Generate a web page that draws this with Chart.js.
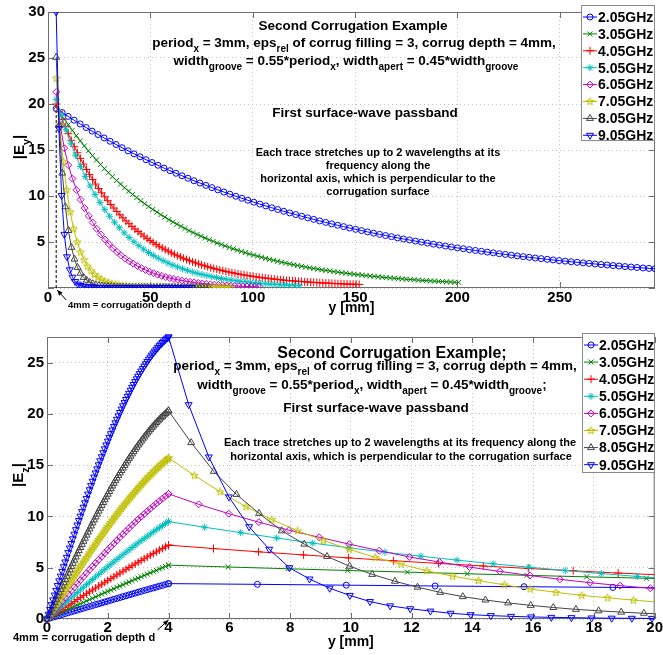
<!DOCTYPE html>
<html>
<head>
<meta charset="utf-8">
<script src="https://cdn.jsdelivr.net/npm/chart.js@4.4.1/dist/chart.umd.min.js"></script>
<style>
  html, body { margin: 0; padding: 0; background: #fff; }
  #wrap { position: relative; width: 663px; height: 655px; }
  canvas { position: absolute; left: 0; }
  #top { top: 0; }
  #bottom { top: 325px; }
</style>
</head>
<body>
<div id="wrap">
  <canvas id="top" width="663" height="328"></canvas>
  <canvas id="bottom" width="663" height="330"></canvas>
</div>
<script>
const FONT = '"Liberation Sans", Arial, Helvetica, sans-serif';

// ---- data ----
const freqLabels = ['2.05GHz', '3.05GHz', '4.05GHz', '5.05GHz', '6.05GHz', '7.05GHz', '8.05GHz', '9.05GHz'];
const depthMm = 4;          // corrugation depth d, outside traces start here
// sample spacing inside the groove (0..d), per trace
const grooveStepMm = [0.1, 0.1, 0.1, 0.1, 0.1, 0.05, 0.05, 0.05];
// sample spacing of each trace outside the corrugation (mm)
const ezStepMm = [2.925, 1.966, 1.480, 1.187, 0.991, 0.850, 0.745, 0.663];
const eyStepMm = [2.925, 1.966, 1.480, 2.374, 1.982, 1.701, 1.490, 1.325];
const depthLineTop = 20;

// top plot, |Ey| outside the corrugation
const eyF205 = [19.50,19.07,18.65,18.24,17.83,17.44,17.05,16.68,16.31,15.95,
  15.60,15.25,14.91,14.58,14.26,13.95,13.64,13.34,13.04,12.75,
  12.47,12.20,11.93,11.66,11.41,11.15,10.91,10.67,10.43,10.20,
  9.97,9.75,9.54,9.33,9.12,8.92,8.72,8.53,8.34,8.16,
  7.98,7.80,7.63,7.46,7.29,7.13,6.97,6.82,6.67,6.52,
  6.38,6.24,6.10,5.96,5.83,5.70,5.58,5.45,5.33,5.22,
  5.10,4.99,4.88,4.77,4.67,4.56,4.46,4.36,4.27,4.17,
  4.08,3.99,3.90,3.82,3.73,3.65,3.57,3.49,3.41,3.34,
  3.26,3.19,3.12,3.05,2.98,2.92,2.85,2.79,2.73,2.67,
  2.61,2.55,2.50,2.44,2.39,2.33,2.28,2.23,2.18,2.13,2.09];
const eyF305 = [19.70,19.03,18.37,17.75,17.14,16.55,15.99,15.44,14.91,14.40,
  13.91,13.43,12.97,12.53,12.10,11.69,11.29,10.90,10.53,10.17,
  9.82,9.48,9.16,8.85,8.54,8.25,7.97,7.70,7.43,7.18,
  6.93,6.70,6.47,6.24,6.03,5.82,5.62,5.43,5.25,5.07,
  4.89,4.73,4.57,4.41,4.26,4.11,3.97,3.84,3.70,3.58,
  3.46,3.34,3.22,3.11,3.01,2.90,2.80,2.71,2.62,2.53,
  2.44,2.36,2.28,2.20,2.12,2.05,1.98,1.91,1.85,1.78,
  1.72,1.66,1.61,1.55,1.50,1.45,1.40,1.35,1.30,1.26,
  1.21,1.17,1.13,1.09,1.06,1.02,0.99,0.95,0.92,0.89,
  0.86,0.83,0.80,0.77,0.75,0.72,0.70,0.67,0.65,0.63,0.61];
const eyF405 = [20.00,19.14,18.31,17.53,16.77,16.05,15.36,14.70,14.07,13.47,
  12.88,12.33,11.80,11.30,10.81,10.35,9.91,9.49,9.08,8.69,
  8.32,7.96,7.63,7.30,6.99,6.69,6.41,6.14,5.88,5.63,
  5.39,5.16,4.95,4.74,4.54,4.35,4.17,3.99,3.82,3.67,
  3.51,3.37,3.23,3.09,2.97,2.84,2.73,2.61,2.51,2.41,
  2.31,2.21,2.12,2.04,1.96,1.88,1.80,1.73,1.66,1.60,
  1.53,1.47,1.42,1.36,1.31,1.26,1.21,1.16,1.12,1.08,
  1.04,1.00,0.96,0.93,0.89,0.86,0.83,0.80,0.77,0.75,
  0.72,0.70,0.67,0.65,0.63,0.61,0.59,0.57,0.55,0.53,
  0.52,0.50,0.48,0.47,0.46,0.44,0.43,0.42,0.41,0.40,0.38];
const eyF505 = [20.50,18.78,17.20,15.75,14.43,13.22,12.11,11.09,10.16,9.30,
  8.52,7.80,7.15,6.55,5.99,5.49,5.03,4.60,4.22,3.86,
  3.54,3.24,2.97,2.72,2.49,2.28,2.09,1.91,1.75,1.60,
  1.47,1.35,1.23,1.13,1.03,0.95,0.87,0.79,0.73,0.67,
  0.61,0.56,0.51,0.47,0.43,0.39,0.36,0.33,0.30,0.28,0.25];
const eyF605 = [21.30,17.67,15.19,13.35,11.89,10.67,9.61,8.68,7.85,7.11,
  6.43,5.82,5.27,4.77,4.32,3.92,3.55,3.21,2.91,2.64,
  2.39,2.16,1.96,1.77,1.61,1.45,1.32,1.19,1.08,0.98,
  0.89,0.80,0.73,0.66,0.60,0.54,0.49,0.44,0.40,0.36,
  0.33,0.30,0.27,0.24,0.22,0.20,0.18,0.16,0.15,0.13,0.12];
const eyF705 = [22.80,17.69,13.73,10.66,8.28,6.44,5.01,3.91,3.05,2.38,
  1.87,1.47,1.16,0.92,0.74,0.59,0.48,0.40,0.33,0.28,
  0.24,0.21,0.18,0.16,0.15,0.14,0.13,0.12,0.12,0.11,
  0.11,0.11,0.10,0.10,0.10,0.10,0.09,0.09,0.09,0.09,
  0.09,0.08,0.08,0.08,0.08,0.08,0.08,0.07,0.07,0.07,0.07];
const eyF805 = [25.08,17.70,12.49,8.83,6.25,4.42,3.14,2.24,1.60,1.15,
  0.84,0.61,0.46,0.34,0.27,0.21,0.17,0.15,0.13,0.11,
  0.10,0.09,0.09,0.08,0.08,0.08,0.07,0.07,0.07,0.07,
  0.07,0.07,0.06,0.06,0.06,0.06,0.06,0.06,0.06,0.06,
  0.05,0.05,0.05,0.05,0.05,0.05,0.05,0.05,0.05,0.05,0.05];
const eyF905 = [30.00,17.35,10.05,5.83,3.39,1.98,1.17,0.70,0.43,0.27,
  0.18,0.13,0.10,0.08,0.07,0.07,0.06,0.06,0.06,0.06,
  0.05,0.05,0.05,0.05,0.05,0.05,0.05,0.05,0.05,0.04,
  0.04,0.04,0.04,0.04,0.04,0.04,0.04,0.04,0.04,0.04,
  0.04,0.04,0.04,0.04,0.04,0.04,0.04,0.04,0.04,0.04,0.04];

// bottom plot, |Ez| inside the groove (0..4 mm)
const ezInF205 = [0,0.09,0.18,0.26,0.35,0.44,0.53,0.61,0.70,0.79,0.87,0.96,1.05,1.14,1.22,1.31,1.40,1.48,1.57,1.66,1.74,1.83,1.92,2.00,2.09,2.18,2.26,2.35,2.43,2.52,2.61,2.69,2.78,2.86,2.95,3.03,3.11,3.20,3.28,3.37,3.45];
const ezInF305 = [0,0.14,0.27,0.41,0.54,0.68,0.81,0.95,1.08,1.22,1.35,1.49,1.62,1.76,1.89,2.02,2.16,2.29,2.43,2.56,2.69,2.82,2.95,3.09,3.22,3.35,3.48,3.61,3.74,3.87,3.99,4.12,4.25,4.38,4.50,4.63,4.75,4.88,5.00,5.13,5.25];
const ezInF405 = [0,0.19,0.38,0.57,0.76,0.95,1.14,1.33,1.52,1.71,1.90,2.09,2.28,2.47,2.65,2.84,3.02,3.21,3.39,3.58,3.76,3.94,4.12,4.31,4.48,4.66,4.84,5.02,5.19,5.37,5.54,5.71,5.88,6.05,6.22,6.39,6.55,6.72,6.88,7.04,7.20];
const ezInF505 = [0,0.26,0.52,0.78,1.04,1.30,1.56,1.82,2.07,2.33,2.59,2.84,3.10,3.35,3.60,3.85,4.10,4.35,4.60,4.84,5.09,5.33,5.57,5.81,6.04,6.28,6.51,6.74,6.97,7.20,7.42,7.64,7.86,8.07,8.29,8.50,8.71,8.91,9.11,9.31,9.50];
const ezInF605 = [0,0.35,0.70,1.04,1.39,1.74,2.08,2.43,2.77,3.11,3.45,3.79,4.13,4.46,4.80,5.13,5.46,5.78,6.10,6.42,6.74,7.05,7.36,7.67,7.97,8.27,8.57,8.86,9.15,9.43,9.71,9.98,10.24,10.51,10.76,11.02,11.26,11.51,11.74,11.97,12.20];
const ezInF705 = [0,0.24,0.47,0.71,0.94,1.18,1.41,1.65,1.88,2.11,2.35,2.58,2.81,3.04,3.28,3.51,3.74,3.97,4.20,4.43,
  4.65,4.88,5.11,5.33,5.56,5.78,6.00,6.23,6.45,6.67,6.89,7.10,7.32,7.54,7.75,7.96,8.17,8.38,8.59,8.80,
  9.01,9.21,9.42,9.61,9.82,10.01,10.22,10.40,10.61,10.79,10.98,11.16,11.35,11.53,11.72,11.90,12.08,12.25,12.43,12.60,
  12.77,12.94,13.10,13.27,13.43,13.59,13.75,13.90,14.05,14.20,14.35,14.50,14.64,14.78,14.92,15.06,15.19,15.32,15.45,15.58,15.70];
const ezInF805 = [0,0.32,0.64,0.97,1.29,1.61,1.93,2.25,2.57,2.89,3.21,3.53,3.85,4.17,4.48,4.80,5.11,5.43,5.74,6.05,
  6.36,6.67,6.97,7.28,7.58,7.88,8.18,8.48,8.78,9.07,9.37,9.66,9.95,10.23,10.52,10.80,11.08,11.36,11.63,11.90,
  12.17,12.44,12.71,12.97,13.23,13.49,13.74,13.99,14.24,14.48,14.72,14.96,15.20,15.43,15.66,15.88,16.10,16.32,16.54,16.75,
  16.96,17.16,17.36,17.56,17.75,17.94,18.13,18.31,18.49,18.66,18.83,19.00,19.16,19.31,19.47,19.62,19.76,19.90,20.04,20.17,20.30];
const ezInF905 = [0,0.47,0.93,1.40,1.86,2.33,2.79,3.26,3.72,4.18,4.64,5.10,5.56,6.01,6.47,6.92,7.37,7.82,8.27,8.71,
  9.16,9.60,10.03,10.47,10.90,11.33,11.76,12.18,12.60,13.01,13.43,13.84,14.24,14.64,15.04,15.43,15.82,16.21,16.59,16.97,
  17.34,17.71,18.07,18.43,18.78,19.13,19.47,19.81,20.14,20.47,20.79,21.10,21.41,21.72,22.01,22.31,22.59,22.87,23.15,23.42,
  23.68,23.93,24.18,24.42,24.66,24.89,25.11,25.33,25.54,25.74,25.94,26.12,26.31,26.48,26.65,26.81,26.96,27.11,27.24,27.38,27.50];

// bottom plot, |Ez| outside the corrugation (from 4 mm on)
const ezOutF205 = [3.45,3.38,3.30,3.22,3.15,3.08,3.01];
const ezOutF305 = [5.25,5.07,4.90,4.73,4.57,4.41,4.26,4.11,3.97,3.84];
const ezOutF405 = [7.20,6.87,6.55,6.25,5.96,5.68,5.42,5.17,4.93,4.70,4.48,4.28];
const ezOutF505 = [9.50,8.95,8.42,7.90,7.40,6.95,6.52,6.12,5.74,5.38,5.05,4.73,4.43,4.15,3.89];
const ezOutF605 = [12.20,11.18,10.27,9.44,8.66,7.97,7.30,6.66,6.05,5.55,5.06,4.64,4.24,3.87,3.54,3.25,3.00,2.78];
const ezOutF705 = [15.70,14.00,12.40,10.95,9.70,8.60,7.65,6.80,6.00,5.35,4.70,4.18,3.75,3.33,2.93,2.60,2.30,2.07,1.84,1.63];
const ezOutF805 = [20.30,17.20,14.40,12.15,10.30,8.60,7.30,6.10,5.15,4.35,3.68,3.10,2.60,2.18,1.85,1.57,1.33,1.12,0.94,0.80,0.67,0.56,0.47];
const ezOutF905 = [27.50,20.90,15.80,11.90,9.00,6.80,5.00,3.90,3.00,2.30,1.70,1.28,1.00,0.77,0.56,0.42,0.33,0.26,0.20,0.16,0.13,0.10,0.08,0.07,0.06,0.05];

const eySeries = [eyF205, eyF305, eyF405, eyF505, eyF605, eyF705, eyF805, eyF905];
const ezInSeries = [ezInF205, ezInF305, ezInF405, ezInF505, ezInF605, ezInF705, ezInF805, ezInF905];
const ezOutSeries = [ezOutF205, ezOutF305, ezOutF405, ezOutF505, ezOutF605, ezOutF705, ezOutF805, ezOutF905];

// ---- styles ----
const colors = ['#0000ff', '#008000', '#ff0000', '#00bfbf', '#bf00bf', '#bfbf00', '#454545', '#0000ff'];
const markerRot = [0, 0, 0, 0, 0, 0, 0, 180];
const markerSize = [3, 3.5, 4, 3.5, 3.5, 4, 4, 4];

function pentagram(color) {
  const c = document.createElement('canvas');
  c.width = 9; c.height = 9;
  const g = c.getContext('2d');
  g.strokeStyle = color;
  g.lineWidth = 1;
  g.beginPath();
  for (let i = 0; i < 10; i++) {
    const r = i % 2 ? 1.6 : 4;
    const a = -Math.PI / 2 + i * Math.PI / 5;
    const px = 4.5 + r * Math.cos(a), py = 4.7 + r * Math.sin(a);
    if (i) g.lineTo(px, py); else g.moveTo(px, py);
  }
  g.closePath();
  g.stroke();
  return c;
}
const markers = ['circle', 'crossRot', 'cross', 'star', 'rectRot', pentagram(colors[5]), 'triangle', 'triangle'];

function traceStyle(k) {
  return {
    label: freqLabels[k],
    borderColor: colors[k],
    backgroundColor: 'rgba(0,0,0,0)',
    borderWidth: 1,
    pointStyle: markers[k],
    pointRotation: markerRot[k],
    pointRadius: markerSize[k],
    pointBorderWidth: 1,
    pointBorderColor: colors[k],
    pointBackgroundColor: 'rgba(0,0,0,0)',
    tension: 0,
    fill: false,
    order: 7 - k
  };
}

// ---- drawing helpers ----
function richText(ctx, parts, cx, cy, size, align) {
  const sub = size * 0.74;
  let w = 0;
  parts.forEach(([t, s]) => {
    ctx.font = 'bold ' + (s ? sub : size) + 'px ' + FONT;
    w += ctx.measureText(t).width;
  });
  let x = align === 'left' ? cx : cx - w / 2;
  const base = cy + size * 0.36;
  ctx.textAlign = 'left';
  ctx.textBaseline = 'alphabetic';
  parts.forEach(([t, s]) => {
    ctx.font = 'bold ' + (s ? sub : size) + 'px ' + FONT;
    ctx.fillText(t, x, s ? base + size * 0.36 : base);
    x += ctx.measureText(t).width;
  });
}

function makeDecor(cfg) {
  return {
    id: 'decor',
    beforeDatasetsDraw(chart) {
      const { ctx, chartArea: a, scales: { x, y } } = chart;
      ctx.save();
      ctx.strokeStyle = '#6e6e6e';
      ctx.lineWidth = 1;
      ctx.strokeRect(a.left + 0.5, a.top + 0.5, a.right - a.left - 1, a.bottom - a.top - 1);
      ctx.beginPath();
      x.ticks.forEach(t => {
        const px = Math.round(x.getPixelForValue(t.value)) + 0.5;
        ctx.moveTo(px, a.bottom); ctx.lineTo(px, a.bottom - 6);
        ctx.moveTo(px, a.top); ctx.lineTo(px, a.top + 6);
      });
      y.ticks.forEach(t => {
        const py = Math.round(y.getPixelForValue(t.value)) + 0.5;
        ctx.moveTo(a.left, py); ctx.lineTo(a.left + 6, py);
        ctx.moveTo(a.right, py); ctx.lineTo(a.right - 6, py);
      });
      ctx.stroke();
      ctx.restore();
    },
    afterDraw(chart) {
      const { ctx, scales: { x, y } } = chart;
      ctx.save();
      ctx.fillStyle = '#000';
      cfg.notes.forEach(n => richText(ctx, n.parts, n.cx, n.cy, n.size));

      // y axis title with subscript
      ctx.save();
      ctx.translate(cfg.yTitle.cx, cfg.yTitle.cy);
      ctx.rotate(-Math.PI / 2);
      richText(ctx, cfg.yTitle.parts, 0, 0, 15);
      ctx.restore();

      // arrow to the corrugation depth
      const tipX = x.getPixelForValue(depthMm) + cfg.arrow.dx;
      const tipY = y.getPixelForValue(0) + cfg.arrow.dy;
      const tx = tipX + cfg.arrow.tx, ty = tipY + cfg.arrow.ty;
      ctx.strokeStyle = '#000';
      ctx.lineWidth = 1;
      ctx.beginPath();
      ctx.moveTo(tx, ty); ctx.lineTo(tipX, tipY);
      ctx.stroke();
      const ang = Math.atan2(tipY - ty, tipX - tx);
      ctx.beginPath();
      ctx.moveTo(tipX, tipY);
      ctx.lineTo(tipX - 6 * Math.cos(ang - 0.4), tipY - 6 * Math.sin(ang - 0.4));
      ctx.lineTo(tipX - 6 * Math.cos(ang + 0.4), tipY - 6 * Math.sin(ang + 0.4));
      ctx.closePath();
      ctx.fillStyle = '#000';
      ctx.fill();
      richText(ctx, [['4mm = corrugation depth d']], cfg.arrow.textX, cfg.arrow.textY, cfg.arrow.size, 'left');

      // legend box
      const L = cfg.legend;
      ctx.fillStyle = '#fff';
      ctx.fillRect(L.left, L.top, L.right - L.left, L.bottom - L.top);
      ctx.strokeStyle = '#8a8a8a';
      ctx.strokeRect(L.left + 0.5, L.top + 0.5, L.right - L.left - 1, L.bottom - L.top - 1);
      chart.data.datasets.forEach((ds, k) => {
        if (!ds.label) return;
        const cy = L.first + k * L.gap;
        ctx.strokeStyle = ds.borderColor;
        ctx.fillStyle = 'rgba(0,0,0,0)';
        ctx.lineWidth = 1;
        ctx.beginPath();
        ctx.moveTo(L.left + 2, cy); ctx.lineTo(L.left + 16, cy);
        ctx.stroke();
        Chart.helpers.drawPoint(ctx, {
          pointStyle: ds.pointStyle, rotation: ds.pointRotation,
          radius: ds.pointRadius, borderWidth: 1
        }, L.left + 9, cy);
        ctx.fillStyle = '#000';
        ctx.font = 'bold 14px ' + FONT;
        ctx.textAlign = 'left';
        ctx.textBaseline = 'middle';
        ctx.fillText(ds.label, L.left + 17, cy + 1);
      });
      ctx.restore();
    }
  };
}

function axisBase(min, max, step, fitSize, horizontal) {
  return {
    type: 'linear',
    min: min,
    max: max,
    grid: { color: '#c4c4c4', lineWidth: 1, drawTicks: false },
    border: { display: false, dash: [1, 3] },
    ticks: {
      stepSize: step,
      includeBounds: false,
      autoSkip: false,
      maxRotation: 0,
      color: '#000',
      font: { size: 15, weight: 'bold', family: FONT },
      padding: horizontal ? 1 : 3
    },
    afterFit(s) { if (horizontal) s.height = fitSize; else s.width = fitSize; }
  };
}

Chart.defaults.font.family = FONT;

// ---- top chart: |Ey| ----
const topSets = eySeries.map((arr, k) => Object.assign(traceStyle(k), {
  data: arr.map((v, i) => ({ x: depthMm + i * eyStepMm[k], y: v }))
}));
topSets.push({
  label: '',
  data: [{ x: depthMm, y: 0 }, { x: depthMm, y: depthLineTop }],
  borderColor: '#000', borderWidth: 1, borderDash: [3, 2],
  pointRadius: 0, order: 8
});

const topX = axisBase(0, 296.5, 50, 40, true);
topX.title = { display: true, text: 'y [mm]', color: '#000',
  font: { size: 14, weight: 'bold', family: FONT }, padding: { top: 0, bottom: 11 } };
const topY = axisBase(0, 30, 5, 48, false);
topY.ticks.callback = v => (v === 0 ? '' : v);

new Chart(document.getElementById('top'), {
  type: 'line',
  data: { datasets: topSets },
  options: {
    responsive: false,
    animation: false,
    events: [],
    layout: { padding: { left: 0, top: 6, right: 8, bottom: 0 } },
    scales: { x: topX, y: topY },
    plugins: { legend: { display: false }, tooltip: { enabled: false } }
  },
  plugins: [makeDecor({
    notes: [
      { cx: 353, cy: 25, size: 13.5, parts: [['Second Corrugation Example']] },
      { cx: 354, cy: 42, size: 13.5, parts: [['period'], ['x', 1], [' = 3mm, eps'], ['rel', 1], [' of corrug filling = 3, corrug depth = 4mm,']] },
      { cx: 346, cy: 60, size: 13.5, parts: [['width'], ['groove', 1], [' = 0.55*period'], ['x', 1], [', width'], ['apert', 1], [' = 0.45*width'], ['groove', 1]] },
      { cx: 365, cy: 112, size: 13.5, parts: [['First surface-wave passband']] },
      { cx: 378, cy: 152, size: 11, parts: [['Each trace stretches up to 2 wavelengths at its']] },
      { cx: 378, cy: 165, size: 11, parts: [['frequency along the']] },
      { cx: 378, cy: 178, size: 11, parts: [['horizontal axis, which is perpendicular to the']] },
      { cx: 378, cy: 191, size: 11, parts: [['corrugation surface']] }
    ],
    yTitle: { cx: 19, cy: 147, parts: [['|E'], ['y', 1], ['|']] },
    arrow: { dx: 1, dy: 2, tx: 9, ty: 10, textX: 68, textY: 305, size: 9.5 },
    legend: { left: 581, top: 5, right: 655, bottom: 141, first: 17, gap: 16.9 }
  })]
});

// ---- bottom chart: |Ez| ----
const bottomSets = ezInSeries.map((arr, k) => Object.assign(traceStyle(k), {
  data: arr.map((v, i) => ({ x: i * grooveStepMm[k], y: v }))
    .concat(ezOutSeries[k].map((v, i) => ({ x: depthMm + i * ezStepMm[k], y: v }))),
  clip: { left: 8, top: 8, right: 0, bottom: 8 }
}));

const botX = axisBase(0, 20, 2, 36, true);
botX.ticks.padding = 0;
botX.title = { display: true, text: 'y [mm]', color: '#000',
  font: { size: 14, weight: 'bold', family: FONT }, padding: { top: 0, bottom: 4.5 } };
const botY = axisBase(0, 27.5, 5, 47, false);

new Chart(document.getElementById('bottom'), {
  type: 'line',
  data: { datasets: bottomSets },
  options: {
    responsive: false,
    animation: false,
    events: [],
    layout: { padding: { left: 0, top: 8, right: 7, bottom: 0 } },
    scales: { x: botX, y: botY },
    plugins: { legend: { display: false }, tooltip: { enabled: false } }
  },
  plugins: [makeDecor({
    notes: [
      { cx: 392, cy: 27, size: 16, parts: [['Second Corrugation Example;']] },
      { cx: 375, cy: 40, size: 13.5, parts: [['period'], ['x', 1], [' = 3mm, eps'], ['rel', 1], [' of corrug filling = 3, corrug depth = 4mm,']] },
      { cx: 372, cy: 59, size: 13.5, parts: [['width'], ['groove', 1], [' = 0.55*period'], ['x', 1], [', width'], ['apert', 1], [' = 0.45*width'], ['groove', 1], [';']] },
      { cx: 376, cy: 82, size: 13.5, parts: [['First surface-wave passband']] },
      { cx: 400, cy: 117, size: 11, parts: [['Each trace stretches up to 2 wavelengths at its frequency along the']] },
      { cx: 401, cy: 131, size: 11, parts: [['horizontal axis, which is perpendicular to the corrugation surface']] }
    ],
    yTitle: { cx: 18, cy: 150, parts: [['|E'], ['z', 1], ['|']] },
    arrow: { dx: 0, dy: 1, tx: -11, ty: 10, textX: 13, textY: 312, size: 11 },
    legend: { left: 582, top: 8, right: 655, bottom: 148, first: 20, gap: 17.1 }
  })]
});
</script>
</body>
</html>
